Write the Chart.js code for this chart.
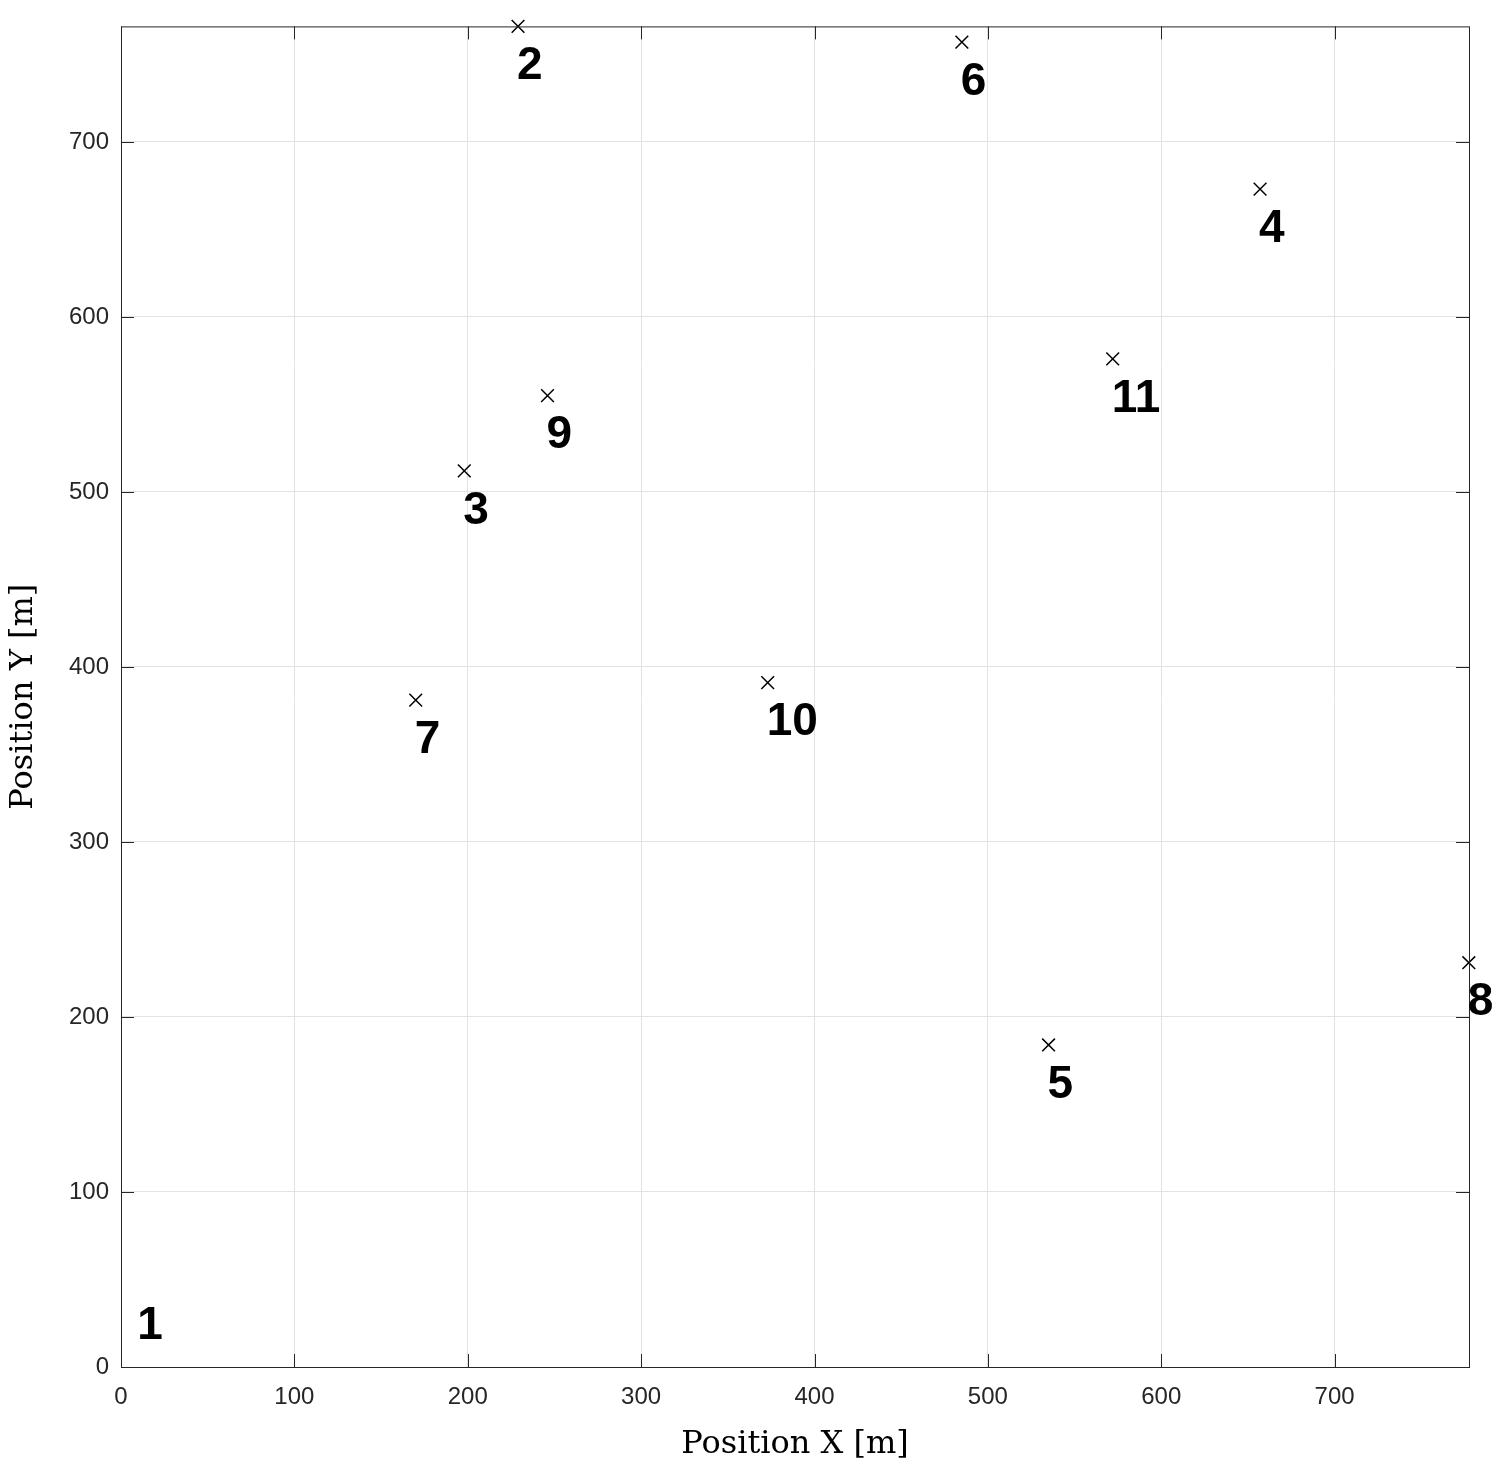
<!DOCTYPE html>
<html><head><meta charset="utf-8">
<script src="https://cdn.jsdelivr.net/npm/chart.js@4/dist/chart.umd.min.js"></script>
<style>html,body{margin:0;padding:0;background:#fff}#w{width:1506px;height:1468px}</style>
</head><body><div id="w"><canvas id="c"></canvas></div>
<script>
const ids = ['2','3','4','5','6','7','8','9','10','11'];
const xs = [229,198,657,535,485,170,777.4,246,373,572];
const ys = [766,512,673,184,757,381,231,555,391,576];
const labelOnly = {id:'1', x:10, y:46};
const xTicks = [0,100,200,300,400,500,600,700];
const yTicks = [0,100,200,300,400,500,600,700];

const pts = xs.map((x,i)=>({x:x,y:ys[i]}));
const labelPlugin = {
  id:'lbl',
  afterDatasetsDraw(chart){
    const ctx=chart.ctx, sx=chart.scales.x, sy=chart.scales.y, a=chart.chartArea;
    ctx.save();
    ctx.strokeStyle='#262626'; ctx.lineWidth=1;
    ctx.strokeRect(a.left+0.5,a.top+0.5,a.right-a.left,a.bottom-a.top);
    // inner ticks
    ctx.beginPath();
    xTicks.forEach(v=>{const p=Math.round(sx.getPixelForValue(v))+0.5;ctx.moveTo(p,a.bottom);ctx.lineTo(p,a.bottom-13);ctx.moveTo(p,a.top);ctx.lineTo(p,a.top+13);});
    yTicks.forEach(v=>{const p=Math.round(sy.getPixelForValue(v))+0.5;ctx.moveTo(a.left,p);ctx.lineTo(a.left+13,p);ctx.moveTo(a.right,p);ctx.lineTo(a.right-13,p);});
    ctx.stroke();
    ctx.fillStyle='#000'; ctx.font='bold 46px "Liberation Sans", Arial, sans-serif';
    ctx.textAlign='left'; ctx.textBaseline='middle';
    const all = pts.map((p,i)=>({id:ids[i],x:p.x,y:p.y})).concat([labelOnly]);
    all.forEach(p=>{ctx.fillText(p.id, sx.getPixelForValue(p.x)-1, sy.getPixelForValue(p.y)+40);});
    ctx.restore();
  }
};
new Chart(document.getElementById('c'),{
  type:'scatter',
  data:{datasets:[{data:pts,pointStyle:'crossRot',pointRadius:9,pointHoverRadius:9,borderColor:'#000',backgroundColor:'#000',borderWidth:1.5,clip:false}]},
  options:{
    responsive:true,maintainAspectRatio:false,animation:false,
    layout:{padding:{top:17,right:37,left:0,bottom:0}},
    plugins:{legend:{display:false},tooltip:{enabled:false}},
    scales:{
      x:{type:'linear',min:0,max:777.5,
        afterBuildTicks(s){s.ticks=xTicks.map(v=>({value:v}));},
        afterFit(s){s.height=101;},
        grid:{color:'#e3e3e3',drawTicks:false},border:{display:false},
        ticks:{padding:16,color:'#262626',font:{size:24,family:'"Liberation Sans", Arial'}},
        title:{display:true,text:'Position X [m]',color:'#000',padding:{top:0},font:{size:32,family:'"DejaVu Serif", "Liberation Serif", serif'}}},
      y:{type:'linear',min:0,max:766,
        afterBuildTicks(s){s.ticks=yTicks.map(v=>({value:v}));},
        afterFit(s){s.width=121;},
        grid:{color:'#e3e3e3',drawTicks:false},border:{display:false},
        ticks:{padding:12,color:'#262626',font:{size:24,family:'"Liberation Sans", Arial'}},
        title:{display:true,text:'Position Y [m]',color:'#000',padding:{bottom:4},font:{size:32,family:'"DejaVu Serif", "Liberation Serif", serif'}}}
    }
  },
  plugins:[labelPlugin]
});
</script></body></html>
